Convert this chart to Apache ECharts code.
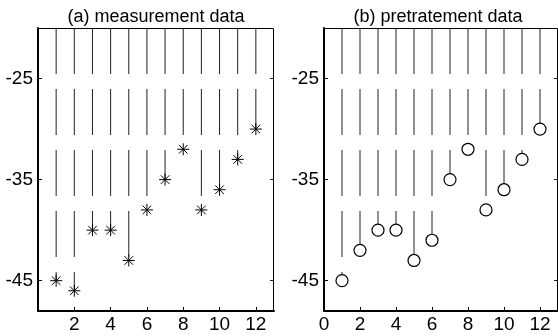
<!DOCTYPE html>
<html>
<head>
<meta charset="utf-8">
<script src="https://cdn.jsdelivr.net/npm/echarts@6/dist/echarts.min.js"></script>
<style>
  html, body { margin: 0; padding: 0; background: #fff; }
  #chart { width: 558px; height: 336px; background: #fff; }
</style>
</head>
<body>
<div id="chart"></div>
<script>
// sample index on the x axis
const samples = [1, 2, 3, 4, 5, 6, 7, 8, 9, 10, 11, 12]
// (a) measured values
const measurement = [-45, -46, -40, -40, -43, -38, -35, -32, -38, -36, -33, -30]
// (b) values after pretreatment
const pretreatment = [-45, -42, -40, -40, -43, -41, -35, -32, -38, -36, -33, -30]

const xTicks = [0, 2, 4, 6, 8, 10, 12]
const xTicksLeft = [2, 4, 6, 8, 10, 12]
const yTicks = [-45, -35, -25]
const titles = ["(a) measurement data", "(b) pretratement data"]

const X_MIN = 0
const X_MAX = 13
const Y_MIN = -48
const Y_MAX = -20
const FONT = "Liberation Sans, Arial, sans-serif"

const chart = echarts.init(document.getElementById("chart"))

function stemItem(marker) {
  return (params, api) => {
    const x = api.value(0)
    const y = api.value(1)
    const top = api.coord([x, Y_MAX])
    const pt = api.coord([x, y])
    const children = [
      {
        type: "line",
        shape: { x1: top[0], y1: top[1], x2: pt[0], y2: pt[1] },
        style: { stroke: "#222", lineWidth: 1, lineDash: [46, 15] },
      },
    ]
    if (marker === "star") {
      const r = 6
      const d = 4.3
      const segs = [
        [-r, 0, r, 0],
        [0, -r, 0, r],
        [-d, -d, d, d],
        [-d, d, d, -d],
      ]
      segs.forEach((s) => {
        children.push({
          type: "line",
          shape: { x1: pt[0] + s[0], y1: pt[1] + s[1], x2: pt[0] + s[2], y2: pt[1] + s[3] },
          style: { stroke: "#000", lineWidth: 1 },
        })
      })
    } else {
      children.push({
        type: "circle",
        shape: { cx: pt[0], cy: pt[1], r: 6 },
        style: { fill: "#fff", stroke: "#000", lineWidth: 1.2 },
      })
    }
    return { type: "group", children }
  }
}

// top and right edges of the box, taken from the axis extents
function frameItem(params, api) {
  const tl = api.coord([X_MIN, Y_MAX])
  const br = api.coord([X_MAX, Y_MIN])
  const yTop = Math.round(tl[1]) + 0.5
  const xRight = Math.round(br[0]) - 0.5
  return {
    type: "polyline",
    z2: 100,
    shape: { points: [[tl[0], yTop], [xRight, yTop], [xRight, br[1]]] },
    style: { stroke: "#000", lineWidth: 1, fill: null },
  }
}

const grids = [
  { left: 38, top: 28, width: 236, height: 283 },
  { left: 324, top: 28, width: 236, height: 283 },
]

const xAxis = []
const yAxis = []
grids.forEach((g, i) => {
  const labelVals = i === 0 ? xTicksLeft : xTicks
  // bottom axis (thick) with labels
  xAxis.push({
    type: "value", gridIndex: i, min: X_MIN, max: X_MAX, position: "bottom",
    axisLine: { onZero: false, lineStyle: { color: "#000", width: 2 } },
    axisTick: { inside: true, length: 4, customValues: xTicks, lineStyle: { color: "#000" } },
    axisLabel: { customValues: labelVals, color: "#000", fontSize: 19, fontFamily: FONT, margin: 4 },
    splitLine: { show: false },
  })
  // left axis (thick) with labels
  yAxis.push({
    type: "value", gridIndex: i, min: Y_MIN, max: Y_MAX, position: "left",
    axisLine: { onZero: false, lineStyle: { color: "#000", width: 2 } },
    axisTick: { inside: true, length: 4, customValues: yTicks, lineStyle: { color: "#000" } },
    axisLabel: { customValues: yTicks, color: "#000", fontSize: 19, fontFamily: FONT, margin: 5 },
    splitLine: { show: false },
  })
  // right edge ticks
  yAxis.push({
    type: "value", gridIndex: i, min: Y_MIN, max: Y_MAX, position: "right",
    axisLine: { show: false, onZero: false },
    axisTick: { inside: true, length: 4, customValues: yTicks, lineStyle: { color: "#222" } },
    axisLabel: { show: false },
    splitLine: { show: false },
  })
})

chart.setOption({
  animation: false,
  title: titles.map((t, i) => ({
    text: t,
    left: grids[i].left + grids[i].width / 2 - (i === 1 ? 4 : 0),
    top: 8,
    padding: 0,
    textAlign: "center",
    textStyle: { fontSize: 18, fontWeight: "normal", color: "#000", fontFamily: FONT },
  })),
  grid: grids,
  xAxis,
  yAxis,
  series: [
    {
      type: "custom",
      xAxisIndex: 0,
      yAxisIndex: 0,
      renderItem: stemItem("star"),
      data: samples.map((x, i) => [x, measurement[i]]),
    },
    {
      type: "custom",
      xAxisIndex: 1,
      yAxisIndex: 2,
      renderItem: stemItem("circle"),
      data: samples.map((x, i) => [x, pretreatment[i]]),
    },
    {
      type: "custom",
      xAxisIndex: 0,
      yAxisIndex: 0,
      clip: false,
      silent: true,
      renderItem: frameItem,
      data: [[X_MIN, Y_MAX]],
    },
    {
      type: "custom",
      xAxisIndex: 1,
      yAxisIndex: 2,
      clip: false,
      silent: true,
      renderItem: frameItem,
      data: [[X_MIN, Y_MAX]],
    },
  ],
})
</script>
</body>
</html>
